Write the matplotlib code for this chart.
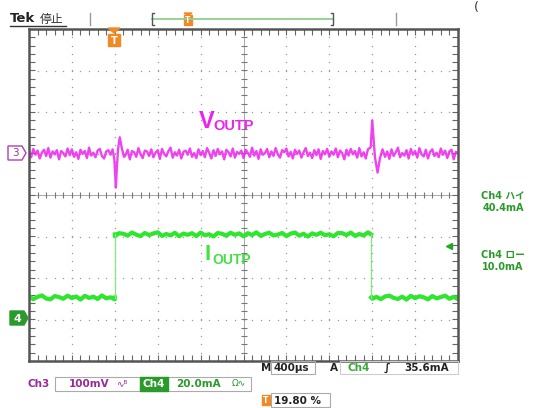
import matplotlib.pyplot as plt
import numpy as np
from matplotlib.patches import Rectangle, Polygon

plt.rcParams['font.family'] = ['DejaVu Sans', 'Noto Sans CJK JP']

# scope settings
us_per_div = 400
ch3_mv_per_div = 100
ch4_ma_per_div = 20
ch3_pos_div = 1.0
ch4_pos_div = -3.0

# Ch3 (VOUTP) noise, one sample every 20 us, mV
v_noise_mv = [
    4, -9, 11, -3, 7, -12, 2, 9, -6, 13, -10, 5, -2, 8, -14, 6, 1, -7, 12, -4,
    10, -8, 3, -13, 9, -1, 6, -11, 14, -5, 2, -9, 7, 11, -6, -12, 5, 8, -3, 10,
    -7, 4, 12, -10, 1, -4, 9, -14, 6, 3, -8, 13, -2, -11, 7, 5, -6, 10, -9, 2,
    8, -13, 11, -1, -7, 6, 14, -10, 3, -5, 9, -12, 4, 7, -3, 12, -8, 1, -11, 10,
    -4, 6, -9, 13, 2, -12, 8, -6, 11, -2, 5, -14, 9, 3, -7, 12, -10, 4, -1, 7,
    -11, 9, 2, -8, 14, -5, 6, -13, 10, -3, 1, 11, -9, 5, -6, 13, -2, -10, 8, 3,
    12, -7, 4, -12, 9, -1, 7, -10, 3, 13, -6, 2, -11, 8, -4, 10, -13, 6, -2, 11,
    -8, 5, -3, 12, -9, 7, 1, -14, 9, -5, 11, -2, 6, -10, 13, -7, 3, -12, 10, -1,
    7, -11, 9, -4, 2, 12, -8, 5, -13, 10, -6, 3, 14, -9, 1, -5, 8, -12, 11, -3,
    6, -10, 13, -2, -7, 9, -12, 4, 10, -6, 2, -9, 12, -3, 7, -11, 5, 9, -14, 4,
    0,
]
# load step transients on Ch3
v_spike_us = [796, 810, 818, 830, 846, 866, 886, 3186, 3200, 3212, 3226, 3250, 3272, 3296]
v_spike_mv = [-15, -82, -40, 10, 39, 12, -8, 15, 80, 40, -10, -46, -12, 10]

# Ch4 (IOUTP) noise, one sample every 40 us, mA
i_noise_ma = [
    0.6, -0.8, 0.3, 1.0, -0.5, -0.9, 0.7, 0.2, -0.6, 0.9, -0.3, 0.5, -1.0, 0.8, -0.2, 0.4, -0.7, 1.0, -0.4, 0.1,
    -0.9, 0.6, 0.3, -0.6, 0.9, -0.1, -0.8, 0.7, -0.3, 0.5, 1.0, -0.7, 0.2, -0.5, 0.8, -0.9, 0.4, -0.2, 0.6, -0.8,
    0.9, -0.4, 0.1, -1.0, 0.7, 0.3, -0.6, 0.8, -0.2, 0.5, -0.9, 0.6, -0.3, 1.0, -0.7, 0.2, 0.8, -0.5, -0.1, 0.7,
    -0.8, 0.4, 0.9, -0.6, 0.3, -1.0, 0.5, -0.2, 0.8, -0.4, 0.1, -0.9, 0.7, 0.6, -0.3, 0.9, -0.7, 0.2, -0.5, 1.0,
    -0.6, 0.3, -0.8, 0.5, 0.9, -0.2, -0.7, 0.4, -1.0, 0.8, -0.3, 0.6, 0.1, -0.9, 0.7, -0.4, 0.2, 0.9, -0.6, 0.3, -0.8,
]
i_low_ma = 10.6
i_high_ma = 41.0
i_rise_us = 800
i_fall_us = 3190
trig_level_ma = 35.6

MAG = '#ee22ee'
GRN = '#2ee62e'
GRID = '#9a9a9a'

fig = plt.figure(figsize=(5.38, 4.08), dpi=100)
ax = fig.add_axes([29 / 538, 1 - 361 / 408, 429 / 538, 332 / 408])
ax.set_xlim(0, 10 * us_per_div)
ax.set_ylim(-4, 4)
ax.set_xticks([])
ax.set_yticks([])
for s in ax.spines.values():
    s.set_color('#555555')
    s.set_linewidth(1.8)

# graticule
sub_x = np.arange(0, 10 * us_per_div + 1, us_per_div / 5)
sub_y = np.arange(-4, 4.01, 0.2)
for k in range(1, 10):
    if k == 5:
        continue
    ax.plot(np.full(len(sub_y), k * us_per_div), sub_y, ls='none', marker='s', ms=0.9, mew=0, color=GRID)
for j in [-3, -2, -1, 1, 2, 3]:
    ax.plot(sub_x, np.full(len(sub_x), j), ls='none', marker='s', ms=0.9, mew=0, color=GRID)
ax.axvline(5 * us_per_div, color=GRID, lw=0.6)
ax.axhline(0, color=GRID, lw=0.6)
ax.plot(sub_x, np.zeros(len(sub_x)), ls='none', marker='|', ms=5, mew=0.8, color='#777777')
ax.plot(np.full(len(sub_y), 5 * us_per_div), sub_y, ls='none', marker='_', ms=5, mew=0.8, color='#777777')
ax.plot(sub_x, np.full(len(sub_x), 4), ls='none', marker='|', ms=8, mew=0.8, color='#666666')
ax.plot(sub_x, np.full(len(sub_x), -4), ls='none', marker='|', ms=8, mew=0.8, color='#666666')
ax.plot(np.zeros(len(sub_y)), sub_y, ls='none', marker='_', ms=8, mew=0.8, color='#666666')
ax.plot(np.full(len(sub_y), 10 * us_per_div), sub_y, ls='none', marker='_', ms=8, mew=0.8, color='#666666')

# Ch3 trace
v_t = np.arange(len(v_noise_mv)) * 20.0
v_mv = np.array(v_noise_mv, dtype=float)
keep = ~(((v_t > 780) & (v_t < 900)) | ((v_t > 3170) & (v_t < 3310)))
vt = np.concatenate([v_t[keep], v_spike_us])
vv = np.concatenate([v_mv[keep], v_spike_mv])
order = np.argsort(vt)
ax.plot(vt[order], ch3_pos_div + vv[order] / ch3_mv_per_div, color=MAG, lw=1.7, alpha=0.85)

# Ch4 trace
i_t = np.arange(len(i_noise_ma)) * 40.0
i_n = np.array(i_noise_ma)
segs = [(0, i_rise_us, i_low_ma), (i_rise_us, i_fall_us, i_high_ma), (i_fall_us, 10 * us_per_div, i_low_ma)]
for t0, t1, lvl in segs:
    m = (i_t >= t0) & (i_t <= t1)
    tt = np.concatenate([[t0], i_t[m], [t1]])
    yy = np.concatenate([[lvl], lvl + i_n[m], [lvl]])
    ax.plot(tt, ch4_pos_div + yy / ch4_ma_per_div, color=GRN, lw=3.0)
for te in [i_rise_us, i_fall_us]:
    ax.plot([te, te], [ch4_pos_div + i_low_ma / ch4_ma_per_div, ch4_pos_div + i_high_ma / ch4_ma_per_div],
            color='#7aee7a', lw=0.9)
# trigger level arrow
ax.plot([9.8 * us_per_div], [ch4_pos_div + trig_level_ma / ch4_ma_per_div], marker='<', ms=4,
        color='#22aa22', clip_on=False)

# overlay in pixel coordinates for the scope annotations
ov = fig.add_axes([0, 0, 1, 1], zorder=5)
ov.set_xlim(0, 538)
ov.set_ylim(408, 0)
ov.axis('off')
ov.patch.set_alpha(0)

def txt(x, y, s, **kw):
    kw.setdefault('va', 'center')
    kw.setdefault('ha', 'left')
    ov.text(x, y, s, **kw)

# header
txt(10, 19, 'Tek', fontsize=9.5, weight='bold', color='#222222')
txt(40, 19, '停止', fontsize=8.5, color='#333333', family=['Noto Sans CJK JP'])
ov.plot([10, 66], [26, 26], color='#333333', lw=1)
ov.plot([90, 90], [13, 25], color='#999999', lw=1)
ov.plot([396, 396], [13, 25], color='#999999', lw=1)
ov.plot([152, 333], [18.5, 18.5], color='#8fd18f', lw=1.3)
ov.plot([154, 152, 152, 154], [13, 13, 25, 25], color='#555555', lw=1)
ov.plot([331, 333, 333, 331], [13, 13, 25, 25], color='#555555', lw=1)
ov.add_patch(Rectangle((184, 15), 8, 10, color='#f08a24'))
ov.add_patch(Polygon([(184, 13), (192, 13), (188, 16)], color='#f08a24'))
txt(188, 20.5, 'T', fontsize=5.5, weight='bold', color='white', ha='center')
txt(474, 8, '(', fontsize=9, color='#333333')

# trigger position marker
ov.add_patch(Polygon([(108, 28), (120, 28), (114, 33)], color='#f08a24'))
ov.add_patch(Rectangle((108, 34), 12, 12, color='#f08a24'))
txt(114, 40.5, 'T', fontsize=7, weight='bold', color='white', ha='center')

# channel markers
ov.add_patch(Polygon([(8, 146), (22, 146), (26, 153), (22, 160), (8, 160)], closed=True,
                     fill=False, ec='#b040b0', lw=1))
txt(15, 153.5, '3', fontsize=7.5, color='#a030a0', ha='center')
ov.add_patch(Polygon([(10, 311), (24, 311), (28, 318), (24, 325), (10, 325)], closed=True,
                     color='#2a9a2a'))
txt(17, 318.5, '4', fontsize=8, weight='bold', color='white', ha='center')

# signal names
txt(199, 122, 'V', fontsize=17, weight='bold', color=MAG, family=['Liberation Sans'])
txt(213, 126, 'OUTP', fontsize=10.5, weight='bold', color=MAG, family=['Liberation Sans'])
txt(205, 255, 'I', fontsize=16, weight='bold', color='#44e044', family=['Liberation Sans'])
txt(212, 259.5, 'OUTP', fontsize=10, weight='bold', color='#44e044', family=['Liberation Sans'])

# cursor readouts
G2 = '#2a9a2a'
txt(503, 196, 'Ch4 ハイ', fontsize=7, weight='bold', color=G2, ha='center')
txt(503, 208, '40.4mA', fontsize=7, weight='bold', color=G2, ha='center')
txt(503, 255, 'Ch4 ロー', fontsize=7, weight='bold', color=G2, ha='center')
txt(503, 267, '10.0mA', fontsize=7, weight='bold', color=G2, ha='center')

# bottom status lines
txt(261, 368, 'M', fontsize=7.5, weight='bold', color='#222222')
ov.add_patch(Rectangle((271, 361), 44, 13, fill=False, ec='#aaaaaa', lw=0.8))
txt(273, 368, '400µs', fontsize=7.5, weight='bold', color='#222222')
txt(330, 368, 'A', fontsize=7.5, weight='bold', color='#222222')
ov.add_patch(Rectangle((340, 361), 118, 13, fill=False, ec='#cccccc', lw=0.8))
txt(348, 368, 'Ch4', fontsize=7.5, weight='bold', color='#3aa83a')
txt(384, 368, '∫', fontsize=8, weight='bold', color='#222222')
txt(404, 368, '35.6mA', fontsize=7.5, weight='bold', color='#222222')

txt(27, 384, 'Ch3', fontsize=7.5, weight='bold', color='#9a2a9a')
ov.add_patch(Rectangle((55, 377), 196, 14, fill=False, ec='#aaaaaa', lw=0.8))
txt(69, 384, '100mV', fontsize=7.5, weight='bold', color='#9a2a9a')
txt(116, 384, '∿ᴮ', fontsize=6.5, color='#9a2a9a')
ov.add_patch(Rectangle((140, 377), 28, 14, color='#2a9a2a'))
txt(154, 384, 'Ch4', fontsize=7.5, weight='bold', color='white', ha='center')
txt(176, 384, '20.0mA', fontsize=7.5, weight='bold', color='#2a9a2a')
txt(232, 384, 'Ω∿', fontsize=6.5, color='#2a9a2a')

ov.add_patch(Rectangle((262, 395), 8, 10, color='#f08a24'))
txt(266, 400.5, 'T', fontsize=5.5, weight='bold', color='white', ha='center')
ov.add_patch(Rectangle((271, 393), 59, 14, fill=False, ec='#aaaaaa', lw=0.8))
txt(274, 400.5, '19.80 %', fontsize=7.5, weight='bold', color='#222222')

fig.savefig('out.png', dpi=100)
